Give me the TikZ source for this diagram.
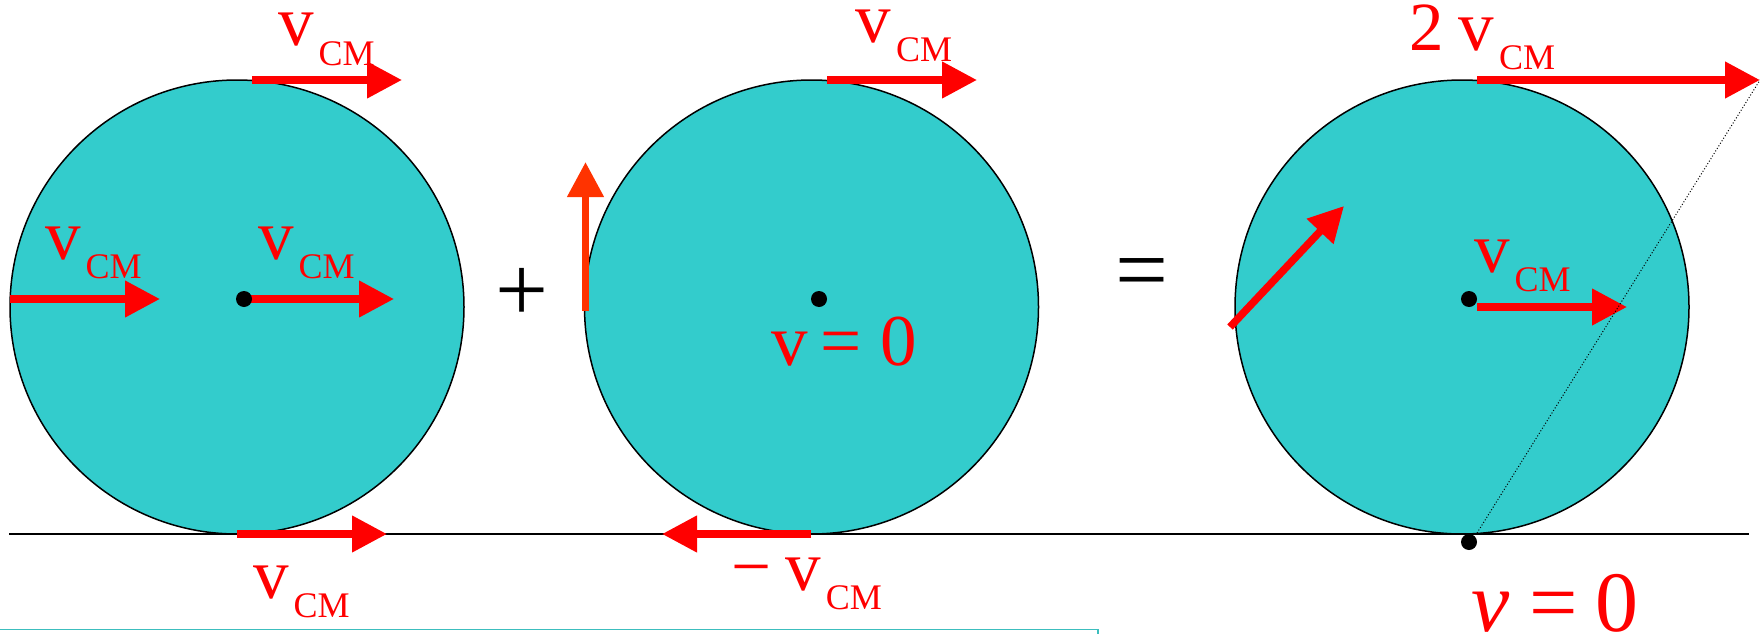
\documentclass[tikz,border=0pt]{standalone}
\usepackage{fontspec}
\setmainfont{Liberation Serif}
\usetikzlibrary{arrows.meta}
\definecolor{wheelcyan}{RGB}{51,204,204}
\definecolor{vred}{RGB}{255,0,0}
\definecolor{vorange}{RGB}{255,51,0}
\definecolor{frameteal}{RGB}{60,190,190}
\newcommand{\vcmlab}{{\fontsize{71}{71}\selectfont v}\kern5pt\raisebox{-19pt}{\fontsize{36}{36}\selectfont CM}}
\begin{document}
\begin{tikzpicture}[x=1pt,y=-1pt,
  wheel/.style={circle, draw=black, line width=1.5pt, fill=wheelcyan, minimum size=454pt, inner sep=0pt},
  vec/.style={draw=vred, line width=7.5pt, -{Triangle[length=35pt,width=35pt]}},
  vecor/.style={vec, draw=vorange},
  dotpt/.style={circle, fill=black, minimum size=16pt, inner sep=0pt},
  lab/.style={text=vred, inner sep=0pt, anchor=base west},
  sym/.style={inner sep=0pt, font=\fontsize{94}{94}\selectfont},
  ground/.style={draw=black, line width=1.8pt},
  guide/.style={draw=black, line width=1pt, dotted}
]
\useasboundingbox (0,0) rectangle (1760,634);

% wheels
\node[wheel] (w1) at (237,307) {};
\node[wheel] (w2) at (811.5,307) {};
\node[wheel] (w3) at (1462,307) {};

% ground and bottom frame line
\coordinate (g0) at (9,534);
\coordinate (g1) at (1749,534);
\draw[ground] (g0) -- (g1);
\coordinate (f0) at (0,629.5);
\coordinate (f1) at (1098,629.5);
\coordinate (f2) at (1098,634);
\draw[frameteal, line width=1.2pt] (f0) -- (f1) -- (f2);

% wheel 1 arrows
\coordinate (a1s) at (252,80);   \coordinate (a1e) at (402,80);
\coordinate (a2s) at (9.6,299);  \coordinate (a2e) at (160,299);
\coordinate (a3s) at (244,299);  \coordinate (a3e) at (394,299);
\coordinate (a4s) at (237,534);  \coordinate (a4e) at (387,534);
\draw[vec] (a1s) -- (a1e);
\draw[vec] (a2s) -- (a2e);
\draw[vec] (a3s) -- (a3e);
\draw[vec] (a4s) -- (a4e);

% wheel 2 arrows
\coordinate (b1s) at (827,80);    \coordinate (b1e) at (977,80);
\coordinate (b2s) at (811,534);   \coordinate (b2e) at (662,534);
\coordinate (b3s) at (585.5,311); \coordinate (b3e) at (585.5,162);
\draw[vec] (b1s) -- (b1e);
\draw[vec] (b2s) -- (b2e);
\draw[vecor] (b3s) -- (b3e);

% wheel 3 arrows
\coordinate (c1s) at (1477,80);   \coordinate (c1e) at (1760,80);
\coordinate (c2s) at (1477,307);  \coordinate (c2e) at (1627,307);
\coordinate (c3s) at (1230,327);  \coordinate (c3e) at (1344,206);
\draw[vec] (c1s) -- (c1e);
\draw[vec] (c2s) -- (c2e);
\draw[vec] (c3s) -- (c3e);

% dotted guide line
\coordinate (d0) at (1477,533);
\draw[guide] (d0) -- (c1e);

% dots
\node[dotpt] (p1) at (244,299) {};
\node[dotpt] (p2) at (819,299) {};
\node[dotpt] (p3) at (1469,299) {};
\node[dotpt] (p4) at (1469,542) {};

% labels
\node[lab] (l1) at (278,46) {\vcmlab};
\node[lab] (l2) at (45,259) {\vcmlab};
\node[lab] (l3) at (258,259) {\vcmlab};
\node[lab] (l4) at (253,598) {\vcmlab};
\node[lab] (l5) at (855.5,42) {\vcmlab};
\node[lab] (l6) at (731,590) {{\fontsize{71}{71}\selectfont −}\kern14pt\vcmlab};
\node[lab] (l7) at (1409,50.5) {{\fontsize{69}{69}\selectfont 2}\kern15pt\vcmlab};
\node[lab] (l8) at (1474,272) {\vcmlab};
\node[lab, font=\fontsize{73}{73}\selectfont] (l9) at (771,365) {v\kern12.5pt=\kern19pt0};
\node[lab, font=\fontsize{86}{86}\selectfont] (l10) at (1471,631) {\textit{v}\kern20pt=\kern18pt0};

% operators
\node[sym] (plus) at (521.5,295) {+};
\node[sym] (eq) at (1142,280.5) {=};
\end{tikzpicture}
\end{document}
